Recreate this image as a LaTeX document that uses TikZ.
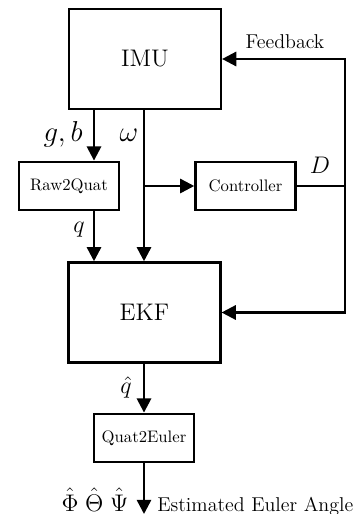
\documentclass[tikz,border=0pt]{standalone}
\usetikzlibrary{arrows.meta}
\tikzset{
  centered/.style = { align=center, anchor=center },
     block/.style = { draw, line width=1.5pt, centered, inner sep=0pt,
                      minimum width=60pt, minimum height=29pt },
  bigblock/.style = { block, font=\Large, minimum width=91pt, minimum height=60pt },
      wire/.style = { line width=1.5pt },
     arrow/.style = { wire, ->, >={Triangle[length=8.5pt,width=8.5pt]} },
    signal/.style = { font=\Large, inner sep=0pt, anchor=base },
      note/.style = { font=\large, inner sep=0pt, anchor=base }
}

\begin{document}
\begin{tikzpicture}[x=0.6pt, y=-0.6pt]
  \useasboundingbox (0,0) rectangle (353,514);

  % blocks
  \node[bigblock] (imu)  at (145,59)    {IMU};
  \node[block]    (raw)  at (69,186)    {Raw2Quat};
  \node[block]    (ctrl) at (245.5,186) {Controller};
  \node[bigblock] (ekf)  at (144.5,312.5) {EKF};
  \node[block]    (q2e)  at (144,438)   {Quat2Euler};

  \coordinate (xl)  at (94,0);
  \coordinate (xc)  at (144,0);
  \coordinate (fb)  at (345,186);
  \coordinate (out) at (144,514);

  % signals
  \draw[arrow] (imu.south -| xl) -- (raw.north -| xl);
  \draw[arrow] (raw.south -| xl) -- (ekf.north -| xl);
  \draw[arrow] (imu.south -| xc) -- (ekf.north -| xc);
  \draw[arrow] (ctrl.west -| xc) -- (ctrl.west);
  \draw[wire]  (ctrl.east) -- (fb);
  \draw[arrow] (fb) |- (imu.east);
  \draw[arrow] (fb) |- (ekf.east);
  \draw[arrow] (ekf.south -| xc) -- (q2e.north -| xc);
  \draw[arrow] (q2e.south -| xc) -- (out);

  % labels
  \node[signal, font=\LARGE, anchor=base east] (gb) at (83,141) {$g,b$};
  \node[signal, font=\LARGE] (om)  at (129,141) {$\omega$};
  \node[signal] (d)   at (320,173) {$D$};
  \node[signal] (q)   at (79,232)  {$q$};
  \node[signal] (qh)  at (126,393) {$\hat{q}$};
  \node[signal] (ang) at (95,511)  {$\hat{\Phi}\;\hat{\Theta}\;\hat{\Psi}$};
  \node[note] (fbtext) at (285,49) {Feedback};
  \node[note, anchor=base west] (est) at (157,511) {Estimated Euler Angles};
\end{tikzpicture}
\end{document}
